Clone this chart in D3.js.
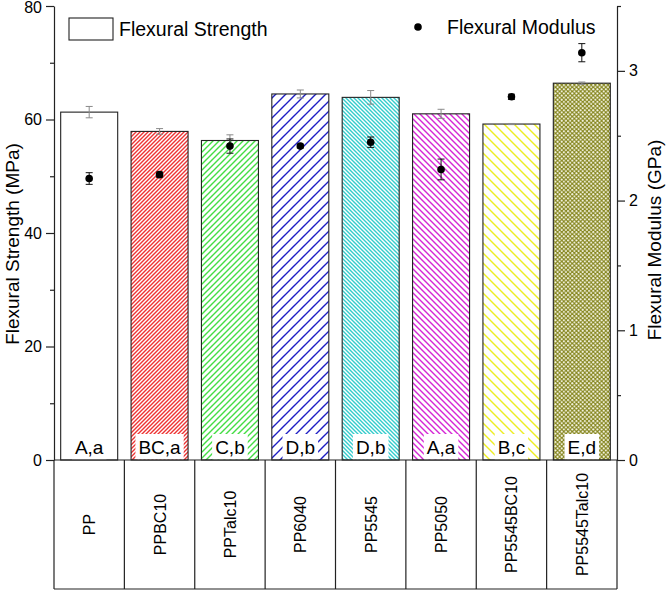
<!DOCTYPE html>
<html><head><meta charset="utf-8">
<script src="https://cdn.jsdelivr.net/npm/d3@7/dist/d3.min.js"></script>
<style>body{margin:0;background:#fff}svg{display:block;font-family:"Liberation Sans",Arial,sans-serif}</style>
</head><body><svg id="c" width="666" height="591"></svg>
<script>
const categories = ["PP","PPBC10","PPTalc10","PP6040","PP5545","PP5050","PP5545BC10","PP5545Talc10"];
const strength = [61.3, 57.9, 56.3, 64.5, 63.9, 61.0, 59.2, 66.4];
const strengthErr = [1.0, 0.5, 1.0, 0.7, 1.2, 0.8, 0.1, 0.2];
const modulus = [2.17, 2.20, 2.42, 2.42, 2.45, 2.24, 2.80, 3.14];
const modulusErr = [0.045, 0.02, 0.055, 0.015, 0.04, 0.08, 0.02, 0.07];
const letters = ["A,a","BC,a","C,b","D,b","D,b","A,a","B,c","E,d"];
const leftTicks = [0,20,40,60,80];
const rightTicks = [0,1,2,3];

const svg = d3.select("#c");
const L=54, R=617, T=6, B=460, TB=589;
const x = d3.scaleBand().domain(categories).range([L,R]).paddingInner(0.19).paddingOuter(0.095);
const xb = d3.scaleBand().domain(categories).range([L,R]);
const y = d3.scaleLinear().domain([0,80]).range([B,T]);
const y2 = d3.scaleLinear().domain([0,3.5]).range([B,T]);

// patterns
const defs = svg.append("defs");
const pats = [
  null,
  {c:"#ee3333", s:4, dir:"/"},
  {c:"#44dd44", s:6, dir:"/"},
  {c:"#1e1ec4", s:10, dir:"/"},
  {c:"#33cccc", s:4, dir:"\\"},
  {c:"#d526d5", s:6, dir:"\\"},
  {c:"#eeee22", s:10, dir:"\\"},
  {dots:true}
];
pats.forEach((p,i)=>{
  if(!p) return;
  const id="p"+i;
  if(p.dots){
    const s=4.2;
    const pt=defs.append("pattern").attr("id",id).attr("patternUnits","userSpaceOnUse").attr("width",s).attr("height",s);
    pt.append("rect").attr("width",s).attr("height",s).attr("fill","#868620");
    pt.append("circle").attr("cx",s/4).attr("cy",s/4).attr("r",1.0).attr("fill","#f8f8e8");
    pt.append("circle").attr("cx",3*s/4).attr("cy",3*s/4).attr("r",1.0).attr("fill","#f8f8e8");
    return;
  }
  const s=p.s;
  const pt=defs.append("pattern").attr("id",id).attr("patternUnits","userSpaceOnUse").attr("width",s).attr("height",s);
  pt.append("rect").attr("width",s).attr("height",s).attr("fill","#fff");
  const d = p.dir==="/" ? `M0,${s}L${s},0M-1,1L1,-1M${s-1},${s+1}L${s+1},${s-1}`
                        : `M0,0L${s},${s}M-1,${s-1}L1,${s+1}M${s-1},-1L${s+1},1`;
  pt.append("path").attr("d",d).attr("stroke",p.c).attr("stroke-width",1.4).attr("fill","none");
});

// bars
svg.selectAll("rect.bar").data(categories).join("rect").attr("class","bar")
  .attr("x",d=>x(d)).attr("width",x.bandwidth())
  .attr("y",(d,i)=>y(strength[i])).attr("height",(d,i)=>B-y(strength[i]))
  .attr("fill",(d,i)=>i===0?"#fff":`url(#p${i})`)
  .attr("stroke","#222").attr("stroke-width",1.1);

// letter labels
const lg = svg.append("g").attr("font-size",19);
categories.forEach((c,i)=>{
  const cx = x(c)+x.bandwidth()/2;
  const t = lg.append("text").attr("x",cx).attr("y",453.5).attr("text-anchor","middle").text(letters[i]);
  const w = t.node().getComputedTextLength();
  lg.insert("rect","text").attr("x",cx-w/2-3).attr("y",434).attr("width",w+6).attr("height",B-434-0.6).attr("fill","#fff");
});

// strength error bars
const cap=3.5;
categories.forEach((c,i)=>{
  const cx = x(c)+x.bandwidth()/2;
  const y1=y(strength[i]+strengthErr[i]), y0=y(strength[i]-strengthErr[i]);
  svg.append("path").attr("d",`M${cx},${y0}V${y1}M${cx-cap},${y1}H${cx+cap}M${cx-cap},${y0}H${cx+cap}`)
    .attr("stroke","#8a8a8a").attr("stroke-width",1).attr("fill","none");
});
// modulus points
categories.forEach((c,i)=>{
  const cx = x(c)+x.bandwidth()/2;
  const y1=y2(modulus[i]+modulusErr[i]), y0=y2(modulus[i]-modulusErr[i]);
  svg.append("path").attr("d",`M${cx},${y0}V${y1}M${cx-cap},${y1}H${cx+cap}M${cx-cap},${y0}H${cx+cap}`)
    .attr("stroke","#111").attr("stroke-width",1).attr("fill","none");
  svg.append("circle").attr("cx",cx).attr("cy",y2(modulus[i])).attr("r",3.8).attr("fill","#000");
});

// axes
const axL = d3.axisLeft(y).tickValues(leftTicks).tickSize(8).tickPadding(4).tickSizeOuter(0);
const gL = svg.append("g").attr("transform",`translate(${L},0)`).call(axL);
const axL2 = d3.axisLeft(y).tickValues([10,30,50,70]).tickSize(4).tickFormat("").tickSizeOuter(0);
svg.append("g").attr("transform",`translate(${L},0)`).call(axL2).select(".domain").remove();
const axR = d3.axisRight(y2).tickValues(rightTicks).tickFormat(d3.format("d")).tickSize(8).tickPadding(4).tickSizeOuter(0);
const gR = svg.append("g").attr("transform",`translate(${R},0)`).call(axR);
const axR2 = d3.axisRight(y2).tickValues([0.5,1.5,2.5,3.5]).tickSize(4).tickFormat("").tickSizeOuter(0);
svg.append("g").attr("transform",`translate(${R},0)`).call(axR2).select(".domain").remove();
svg.selectAll(".tick text").attr("font-size",16).attr("font-family","Liberation Sans, Arial, sans-serif").attr("fill","#000");
gL.selectAll(".tick text").filter(d=>d===80).attr("dy","0.42em");
svg.selectAll(".domain, .tick line").attr("stroke","#222").attr("stroke-width",1.2);

// bottom table
const tg = svg.append("g");
tg.append("path").attr("d",`M${L},${B}H${R}M${L},${TB}H${R}`).attr("stroke","#222").attr("stroke-width",1.2);
[...categories, null].forEach((c,i)=>{
  const xx = c? xb(c) : R;
  tg.append("line").attr("x1",xx).attr("x2",xx).attr("y1",B).attr("y2",TB).attr("stroke","#222").attr("stroke-width",1.2);
});
categories.forEach(c=>{
  const cx = xb(c)+xb.bandwidth()/2, cy=(B+TB)/2;
  tg.append("text").attr("transform",`translate(${cx+6},${cy}) rotate(-90)`).attr("text-anchor","middle")
    .attr("font-size",16).text(c);
});

// axis titles
svg.append("text").attr("transform",`translate(19,244) rotate(-90)`).attr("text-anchor","middle").attr("font-size",19).text("Flexural Strength (MPa)");
svg.append("text").attr("transform",`translate(661,240) rotate(-90)`).attr("text-anchor","middle").attr("font-size",19).text("Flexural Modulus (GPa)");

// legend
svg.append("rect").attr("x",69).attr("y",18).attr("width",44).attr("height",22).attr("fill","#fff").attr("stroke","#222").attr("stroke-width",1.1);
svg.append("text").attr("x",119).attr("y",36).attr("font-size",19.5).text("Flexural Strength");
svg.append("circle").attr("cx",418).attr("cy",27).attr("r",3.8).attr("fill","#000");
svg.append("text").attr("x",447).attr("y",34).attr("font-size",19.5).text("Flexural Modulus");
</script></body></html>
